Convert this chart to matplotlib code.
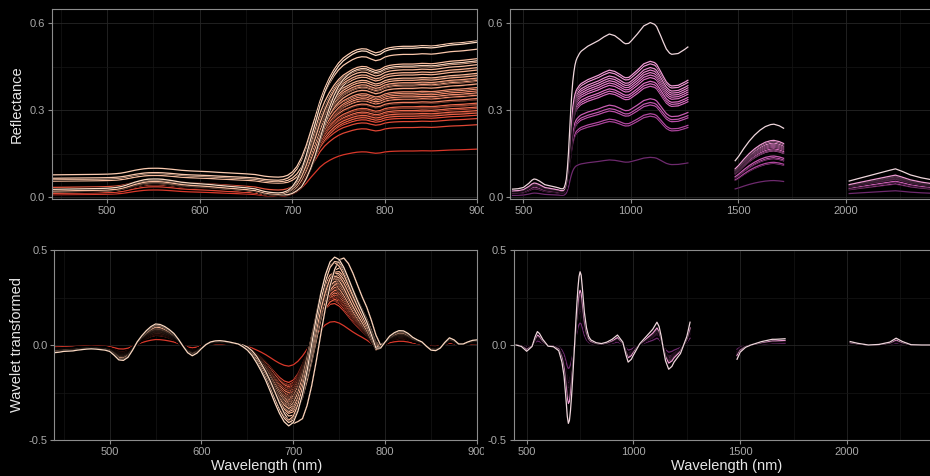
import numpy as np
import matplotlib
matplotlib.use("Agg")
import matplotlib.pyplot as plt
from matplotlib import patheffects as pe
from matplotlib.colors import LinearSegmentedColormap
from matplotlib.patches import Rectangle

plt.rcParams["font.family"] = ["Liberation Sans", "DejaVu Sans"]

# ---- left panels: 440-900 nm, one spectrum per leaf sample ----
wl_left = list(range(440, 901, 5))

# visible "green bump" shape (1 at 550 nm)
vis_shape = [0.35, 0.355, 0.36, 0.365, 0.37, 0.375, 0.38, 0.385, 0.39, 0.395,
             0.40, 0.41, 0.42, 0.44, 0.47, 0.52, 0.60, 0.70, 0.80, 0.88,
             0.95, 0.99, 1.00, 1.00, 0.98, 0.94, 0.90, 0.85, 0.80, 0.77,
             0.74, 0.72, 0.70, 0.68, 0.66, 0.63, 0.60, 0.575, 0.55, 0.525,
             0.50, 0.475, 0.45, 0.415, 0.38, 0.30, 0.22, 0.17, 0.14, 0.125,
             0.12] + [0.12] * 42
# red edge / NIR plateau shape (1 at 900 nm), early and late red edge
edge_shape = [0.0] * 50 + [
    0.005, 0.02, 0.05, 0.10, 0.18, 0.28, 0.40, 0.51, 0.62, 0.70,
    0.76, 0.81, 0.85, 0.88, 0.90, 0.92, 0.935, 0.942, 0.94, 0.925,
    0.912, 0.92, 0.94, 0.95, 0.955, 0.958, 0.96, 0.96, 0.96, 0.962,
    0.965, 0.964, 0.962, 0.965, 0.97, 0.975, 0.98, 0.983, 0.985, 0.988,
    0.992, 0.996, 1.0]
edge_late = [0.0] * 52 + [
    0.01, 0.03, 0.06, 0.12, 0.20, 0.30, 0.42, 0.54, 0.65, 0.74,
    0.81, 0.86, 0.895, 0.92, 0.935, 0.942,
    0.94, 0.925, 0.912, 0.92, 0.94, 0.95, 0.955, 0.958, 0.96, 0.96,
    0.96, 0.962, 0.965, 0.964, 0.962, 0.965, 0.97, 0.975, 0.98, 0.983,
    0.985, 0.988, 0.992, 0.996, 1.0]
# typical wavelet-transformed curve, early and late red edge
wave_left = [-0.030, -0.028, -0.025, -0.024, -0.023, -0.020, -0.018, -0.016, -0.015, -0.016,
             -0.018, -0.020, -0.025, -0.040, -0.058, -0.060, -0.048, -0.020, 0.012, 0.036,
             0.056, 0.072, 0.082, 0.080, 0.072, 0.060, 0.045, 0.022, -0.005, -0.030,
             -0.042, -0.032, -0.014, 0.002, 0.012, 0.016, 0.017, 0.015, 0.012, 0.008,
             0.004, -0.008, -0.023, -0.045, -0.075, -0.108, -0.146, -0.190, -0.235, -0.275,
             -0.305, -0.318, -0.298, -0.245, -0.165, -0.065, 0.045, 0.150, 0.240, 0.305,
             0.345, 0.352, 0.330, 0.290, 0.242, 0.195, 0.153, 0.115, 0.074, 0.025,
             -0.025, -0.015, 0.012, 0.035, 0.048, 0.056, 0.055, 0.045, 0.030, 0.020,
             0.012, -0.005, -0.020, -0.022, -0.012, 0.010, 0.028, 0.020, 0.004, 0.004,
             0.012, 0.018, 0.020]
wave_late = [-0.030, -0.028, -0.025, -0.024, -0.023, -0.020, -0.018, -0.016, -0.015, -0.016,
             -0.018, -0.020, -0.025, -0.040, -0.058, -0.060, -0.048, -0.020, 0.012, 0.036,
             0.056, 0.072, 0.082, 0.080, 0.072, 0.060, 0.045, 0.022, -0.005, -0.030,
             -0.042, -0.032, -0.014, 0.002, 0.012, 0.016, 0.017, 0.015, 0.012, 0.008,
             0.004, 0.000, -0.008, -0.023, -0.045, -0.075, -0.108, -0.146, -0.190, -0.235,
             -0.275, -0.305, -0.318, -0.310, -0.298, -0.245, -0.165, -0.065, 0.045, 0.150,
             0.240, 0.305, 0.345, 0.352, 0.330, 0.290, 0.242, 0.195, 0.153, 0.100,
             0.040, 0.000, 0.012, 0.035, 0.048, 0.056, 0.055, 0.045, 0.030, 0.020,
             0.012, -0.005, -0.020, -0.022, -0.012, 0.010, 0.028, 0.020, 0.004, 0.004,
             0.012, 0.018, 0.020]

nir_left = [0.52, 0.47, 0.468, 0.462, 0.455, 0.452, 0.447, 0.44, 0.436, 0.43, 0.427,
            0.42, 0.414, 0.41, 0.404, 0.398, 0.395, 0.388, 0.383, 0.38, 0.374, 0.37,
            0.362, 0.358, 0.353, 0.348, 0.344, 0.338, 0.333, 0.329, 0.322, 0.318,
            0.313, 0.308, 0.303, 0.298, 0.292, 0.288, 0.282, 0.276, 0.27, 0.262,
            0.245, 0.163]
floor_left = [0.008, 0.065, 0.004, 0.002, 0.006, 0.055, 0.003, 0.001, 0.005, 0.002, 0.008,
              0.001, 0.05, 0.004, 0.0, 0.005, 0.002, 0.007, 0.001, 0.004, 0.045, 0.002,
              0.006, 0.003, 0.0, 0.005, 0.002, 0.008, 0.001, 0.004, 0.01, 0.0,
              0.003, 0.006, 0.002, 0.004, 0.0, 0.008, 0.003, 0.001, 0.02, 0.004,
              0.001, 0.0]
bump_left = [0.055, 0.035, 0.05, 0.055, 0.045, 0.03, 0.06, 0.05, 0.045, 0.055, 0.04,
             0.053, 0.032, 0.047, 0.058, 0.043, 0.051, 0.041, 0.056, 0.048, 0.03, 0.052,
             0.044, 0.049, 0.06, 0.042, 0.05, 0.039, 0.054, 0.046, 0.038, 0.055,
             0.045, 0.041, 0.051, 0.043, 0.057, 0.035, 0.047, 0.05, 0.04, 0.045,
             0.035, 0.025]
late_left = [0.2, 0.3, 0.1, 1.0, 0.4, 0.2, 0.3, 0.1, 1.0, 0.2, 0.3,
             0.0, 0.5, 0.2, 0.1, 0.3, 0.0, 0.2, 0.4, 0.1, 0.6, 0.2,
             0.0, 0.3, 0.1, 0.2, 0.0, 0.3, 0.1, 0.0, 0.2, 0.1,
             0.0, 0.2, 0.1, 0.0, 0.1, 0.0, 0.2, 0.0, 0.1, 0.0,
             0.0, 0.0]
wscale_left = [1.35, 1.3, 1.25, 1.3, 1.15, 1.28, 1.12, 1.1, 1.3, 1.06, 1.05,
               1.03, 1.2, 1.02, 1.0, 0.99, 0.98, 0.96, 0.95, 0.94, 1.1, 0.92,
               0.9, 0.9, 0.88, 0.87, 0.86, 0.85, 0.84, 0.82, 0.8, 0.8,
               0.78, 0.77, 0.76, 0.75, 0.74, 0.72, 0.7, 0.7, 0.68, 0.66,
               0.62, 0.35]
tone_left = [0.0, 0.1, 0.2, 0.05, 0.25, 0.12, 0.22, 0.3, 0.08, 0.28, 0.35,
             0.26, 0.15, 0.33, 0.4, 0.3, 0.38, 0.45, 0.36, 0.42, 0.2, 0.5,
             0.4, 0.55, 0.48, 0.6, 0.52, 0.64, 0.58, 0.68, 0.62, 0.72,
             0.66, 0.76, 0.7, 0.8, 0.74, 0.84, 0.78, 0.88, 0.82, 0.9,
             0.92, 1.0]

# ---- right panels: 450-2400 nm with water-band gaps ----
nan = float("nan")
wl_right = [450, 475, 500, 525, 540, 550, 560, 575, 600, 625,
            650, 665, 675, 685, 690, 695, 700, 705, 710, 715,
            720, 725, 730, 735, 740, 745, 750, 755, 760, 765,
            770, 780, 790, 800, 825, 850, 875, 900, 925, 950,
            965, 975, 990, 1000, 1030, 1060, 1090, 1110, 1120, 1130,
            1140, 1150, 1165, 1180, 1190, 1220, 1250, 1265, nan,
            1485, 1500, 1525, 1550, 1575, 1600, 1625, 1650, 1665, 1690, 1710, nan,
            2015, 2050, 2100, 2150, 2200, 2230, 2260, 2300, 2350, 2400]
refl_right = [0.020, 0.021, 0.024, 0.034, 0.042, 0.045, 0.044, 0.040, 0.031, 0.028,
              0.025, 0.023, 0.021, 0.021, 0.024, 0.032, 0.045, 0.072, 0.110, 0.160,
              0.210, 0.252, 0.285, 0.308, 0.325, 0.336, 0.343, 0.348, 0.353, 0.357,
              0.360, 0.364, 0.368, 0.372, 0.379, 0.386, 0.395, 0.402, 0.398, 0.388,
              0.381, 0.378, 0.379, 0.384, 0.402, 0.422, 0.430, 0.426, 0.420, 0.408,
              0.396, 0.383, 0.365, 0.355, 0.352, 0.354, 0.364, 0.370, nan,
              0.090, 0.100, 0.120, 0.138, 0.153, 0.165, 0.174, 0.179, 0.180, 0.176, 0.170, nan,
              0.040, 0.045, 0.052, 0.059, 0.066, 0.070, 0.064, 0.055, 0.048, 0.043]
wave_right = [0.0, -0.005, -0.022, -0.005, 0.030, 0.047, 0.040, 0.020, -0.004, -0.006,
              -0.020, -0.060, -0.110, -0.200, -0.250, -0.275, -0.265, -0.230, -0.180, -0.120,
              -0.055, 0.010, 0.080, 0.145, 0.200, 0.240, 0.257, 0.245, 0.205, 0.160,
              0.115, 0.060, 0.030, 0.018, 0.008, 0.005, 0.010, 0.020, 0.035, 0.010,
              -0.035, -0.060, -0.050, -0.035, 0.005, 0.030, 0.055, 0.080, 0.065, 0.030,
              -0.015, -0.055, -0.085, -0.075, -0.060, -0.030, 0.030, 0.080, nan,
              -0.050, -0.025, -0.008, 0.0, 0.006, 0.012, 0.016, 0.020, 0.020, 0.021, 0.022, nan,
              0.012, 0.006, 0.0, 0.002, 0.010, 0.024, 0.012, 0.001, 0.0, 0.0]

rscale_right = [1.40, 1.09, 1.07, 1.04, 1.02, 1.0, 0.98, 0.96, 0.93, 0.91, 0.89,
                0.79, 0.76, 0.74, 0.67, 0.65, 0.32]
wscale_right = [1.5, 1.12, 1.1, 1.05, 1.03, 1.0, 0.98, 0.96, 0.94, 0.92, 0.9,
                0.85, 0.82, 0.8, 0.75, 0.72, 0.45]
tone_right = [0.0, 0.25, 0.3, 0.35, 0.38, 0.42, 0.45, 0.48, 0.5, 0.52, 0.55,
              0.62, 0.66, 0.7, 0.74, 0.78, 1.0]

cmap_left = LinearSegmentedColormap.from_list(
    "left", ["#fcd9c2", "#f9b594", "#f48e6e", "#ec6549", "#d9382a"])
cmap_right = LinearSegmentedColormap.from_list(
    "right", ["#efd6dc", "#ee9ad3", "#dc6fc2", "#b0479f", "#6e2a6e"])

halo = [pe.Stroke(linewidth=1.5, foreground="black"), pe.Normal()]

fig = plt.figure(figsize=(9.3, 4.76), dpi=100, facecolor="black")
ax_tl = fig.add_axes([0.05538, 0.58193, 0.45806, 0.39853])
ax_bl = fig.add_axes([0.05860, 0.07563, 0.45430, 0.39916])
ax_tr = fig.add_axes([0.54882, 0.58193, 0.45333, 0.39853], zorder=2)
ax_br = fig.add_axes([0.55258, 0.07563, 0.45000, 0.39916], zorder=2)

# black strip between the columns (clips the "900" labels like the original)
fig.patches.append(Rectangle((484 / 930, 0), 26 / 930, 1, transform=fig.transFigure,
                             facecolor="black", edgecolor="none", zorder=1))


def style(ax, xlim, ylim, xmaj, xmin, ymaj, ymin, ylabels):
    ax.set_facecolor("black")
    ax.set_xlim(*xlim)
    ax.set_ylim(*ylim)
    ax.set_xticks(xmaj)
    ax.set_xticks(xmin, minor=True)
    ax.set_yticks(ymaj)
    ax.set_yticklabels(ylabels)
    ax.set_yticks(ymin, minor=True)
    ax.grid(which="major", color="#262626", lw=0.6)
    ax.grid(which="minor", color="#161616", lw=0.5)
    ax.set_axisbelow(True)
    for s in ax.spines.values():
        s.set_color("#8c8c8c")
        s.set_linewidth(0.8)
    ax.tick_params(which="major", colors="#8c8c8c", labelcolor="#a8a8a8",
                   labelsize=8, length=3, width=0.8, pad=2)
    ax.tick_params(which="minor", length=0)


arr_wl = np.array(wl_left)
vis = np.array(vis_shape)
edge_a = np.array(edge_shape)
edge_b = np.array(edge_late)
wav_a = np.array(wave_left)
wav_b = np.array(wave_late)
for i in range(len(nir_left) - 1, -1, -1):
    col = cmap_left(tone_left[i])
    m = late_left[i]
    refl = floor_left[i] + bump_left[i] * vis + nir_left[i] * ((1 - m) * edge_a + m * edge_b)
    ln, = ax_tl.plot(arr_wl, refl, color=col, lw=0.9)
    ln.set_path_effects(halo)
    ln, = ax_bl.plot(arr_wl, wscale_left[i] * ((1 - m) * wav_a + m * wav_b), color=col, lw=0.9)
    ln.set_path_effects(halo)

wr = np.array(wl_right)
rr = np.array(refl_right)
wv = np.array(wave_right)
for i in range(len(rscale_right) - 1, -1, -1):
    col = cmap_right(tone_right[i])
    ln, = ax_tr.plot(wr, rscale_right[i] * rr, color=col, lw=0.9)
    ln.set_path_effects(halo)
    ln, = ax_br.plot(wr, wscale_right[i] * wv, color=col, lw=0.9)
    ln.set_path_effects(halo)

style(ax_tl, (440, 900), (-0.006, 0.648), [500, 600, 700, 800, 900],
      [450, 550, 650, 750, 850], [0.0, 0.3, 0.6], [0.15, 0.45], ["0.0", "0.3", "0.6"])
style(ax_tr, (440, 2400), (-0.006, 0.648), [500, 1000, 1500, 2000],
      [750, 1250, 1750, 2250], [0.0, 0.3, 0.6], [0.15, 0.45], ["0.0", "0.3", "0.6"])
style(ax_bl, (440, 900), (-0.5, 0.5), [500, 600, 700, 800, 900],
      [450, 550, 650, 750, 850], [-0.5, 0.0, 0.5], [-0.25, 0.25], ["-0.5", "0.0", "0.5"])
style(ax_br, (440, 2400), (-0.5, 0.5), [500, 1000, 1500, 2000],
      [750, 1250, 1750, 2250], [-0.5, 0.0, 0.5], [-0.25, 0.25], ["-0.5", "0.0", "0.5"])

title_kw = dict(color="#e6e6e6", fontsize=10.5)
fig.text(0.0183, 0.7815, "Reflectance", rotation=90, ha="center", va="center", **title_kw)
fig.text(0.0183, 0.277, "Wavelet transformed", rotation=90, ha="center", va="center", **title_kw)
fig.text(266.7 / 930, 0.02, "Wavelength (nm)", ha="center", va="center", **title_kw)
fig.text(726.7 / 930, 0.02, "Wavelength (nm)", ha="center", va="center", **title_kw)

fig.savefig("out.png", dpi=100, facecolor="black")
